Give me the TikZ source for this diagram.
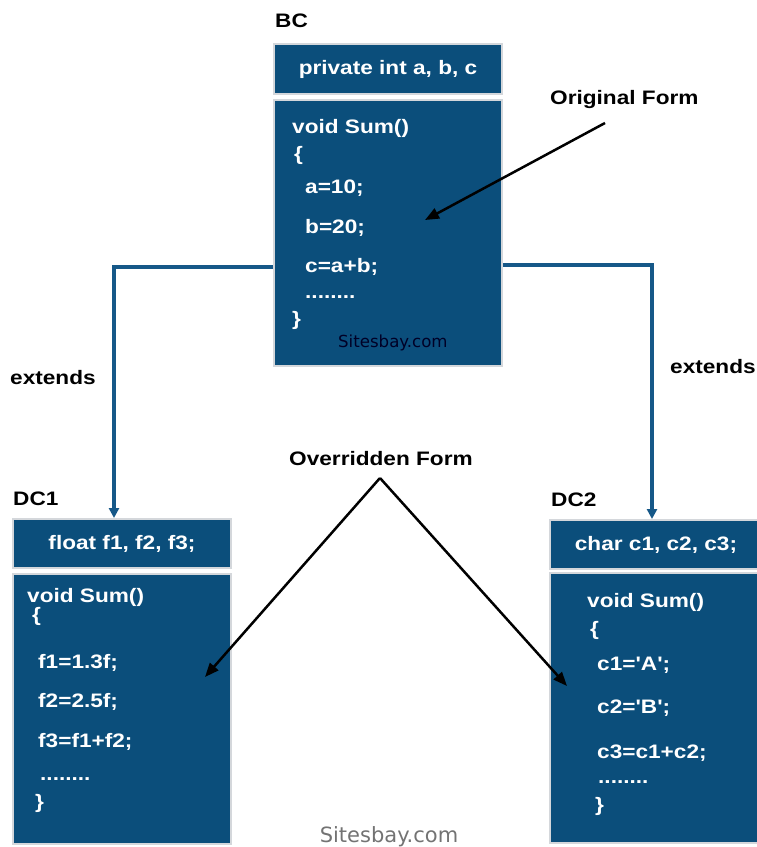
\documentclass[tikz,border=0pt]{standalone}
\usepackage{fontspec}
\usetikzlibrary{arrows.meta}
\newfontfamily\codefont[FakeStretch=1.16]{Liberation Sans}
\newfontfamily\sitefont{DejaVu Sans}
\definecolor{boxblue}{RGB}{11,78,123}
\definecolor{linkblue}{RGB}{22,88,136}
\definecolor{boxedge}{RGB}{212,215,219}
\begin{document}
\begin{tikzpicture}[x=1pt,y=-1pt,
  box/.style={fill=boxblue, draw=boxedge, line width=2pt, inner sep=0pt, anchor=north west},
  headtxt/.style={font=\codefont\bfseries\fontsize{19.5}{23}\selectfont, text=white},
  code/.style={font=\codefont\bfseries\fontsize{19.5}{23}\selectfont, text=white, anchor=base west, inner sep=0pt},
  lbl/.style={font=\codefont\bfseries\fontsize{19.5}{23}\selectfont, text=black, anchor=base west, inner sep=0pt},
  conn/.style={draw=linkblue, line width=3.5pt, -{Triangle[length=10pt,width=10pt]}},
  blk/.style={draw=black, line width=2.5pt, -{Triangle[length=14pt,width=11pt]}}]
\useasboundingbox (0,0) rectangle (756,847);

% ---------- BC ----------
\node[lbl] (bclbl) at (275,27) {BC};
\node[box, headtxt, minimum width=228pt, minimum height=50pt] (bchead) at (273,43) {private int a, b, c};
\node[box, minimum width=228pt, minimum height=266pt] (bcbody) at (273,99) {};
\node[code] (bc1) at (292,133) {void Sum()};
\node[code] (bc2) at (294,160) {\{};
\node[code] (bc3) at (305,193) {a=10;};
\node[code] (bc4) at (305,233) {b=20;};
\node[code] (bc5) at (305,272) {c=a+b;};
\node[code] (bc6) at (305,298) {........};
\node[code] (bc7) at (292,325) {\}};
\node[anchor=base west, inner sep=0pt, font=\sitefont\fontsize{16.6}{20}\selectfont, text=black!85!blue] (bcsite) at (338,347) {Sitesbay.com};

% ---------- DC1 ----------
\node[lbl] (dc1lbl) at (13,505) {DC1};
\node[box, headtxt, minimum width=218pt, minimum height=49pt] (dc1head) at (12,518) {float f1, f2, f3;};
\node[box, minimum width=218pt, minimum height=270pt] (dc1body) at (12,573) {};
\node[code] (d11) at (27,602) {void Sum()};
\node[code] (d12) at (32,621) {\{};
\node[code] (d13) at (38,668) {f1=1.3f;};
\node[code] (d14) at (38,707) {f2=2.5f;};
\node[code] (d15) at (38,747) {f3=f1+f2;};
\node[code] (d16) at (40,780) {........};
\node[code] (d17) at (35,808) {\}};

% ---------- DC2 ----------
\node[lbl] (dc2lbl) at (551,506) {DC2};
\node[box, headtxt, minimum width=212pt, minimum height=49pt] (dc2head) at (549,519) {char c1, c2, c3;};
\node[box, minimum width=212pt, minimum height=270pt] (dc2body) at (549,572) {};
\node[code] (d21) at (587,607) {void Sum()};
\node[code] (d22) at (590,635) {\{};
\node[code] (d23) at (597,670) {c1='A';};
\node[code] (d24) at (597,713) {c2='B';};
\node[code] (d25) at (597,758) {c3=c1+c2;};
\node[code] (d26) at (598,783) {........};
\node[code] (d27) at (595,811) {\}};

% ---------- labels ----------
\node[lbl] (orig) at (550,104) {Original Form};
\node[lbl] (over) at (289,465) {Overridden Form};
\node[lbl] (extl) at (10,384) {extends};
\node[lbl] (extr) at (670,373) {extends};
\node[anchor=base, inner sep=0pt, font=\sitefont\fontsize{21}{25}\selectfont, text=black!55] (site) at (389,842) {Sitesbay.com};

% ---------- connectors ----------
\coordinate (lbend) at (114,267);
\coordinate (rbend) at (652,265);
\draw[conn] (bcbody.west |- lbend) -| (dc1head.north -| lbend);
\draw[conn] (bcbody.east |- rbend) -| (dc2head.north -| rbend);

\coordinate (origtail) at (605,123);
\coordinate (origtip) at (425,220);
\draw[blk] (origtail) -- (origtip);
\coordinate (ovtail) at (380,478);
\coordinate (ovtipl) at (205,677);
\coordinate (ovtipr) at (567,686);
\draw[blk] (ovtail) -- (ovtipl);
\draw[blk] (ovtail) -- (ovtipr);
\end{tikzpicture}
\end{document}
